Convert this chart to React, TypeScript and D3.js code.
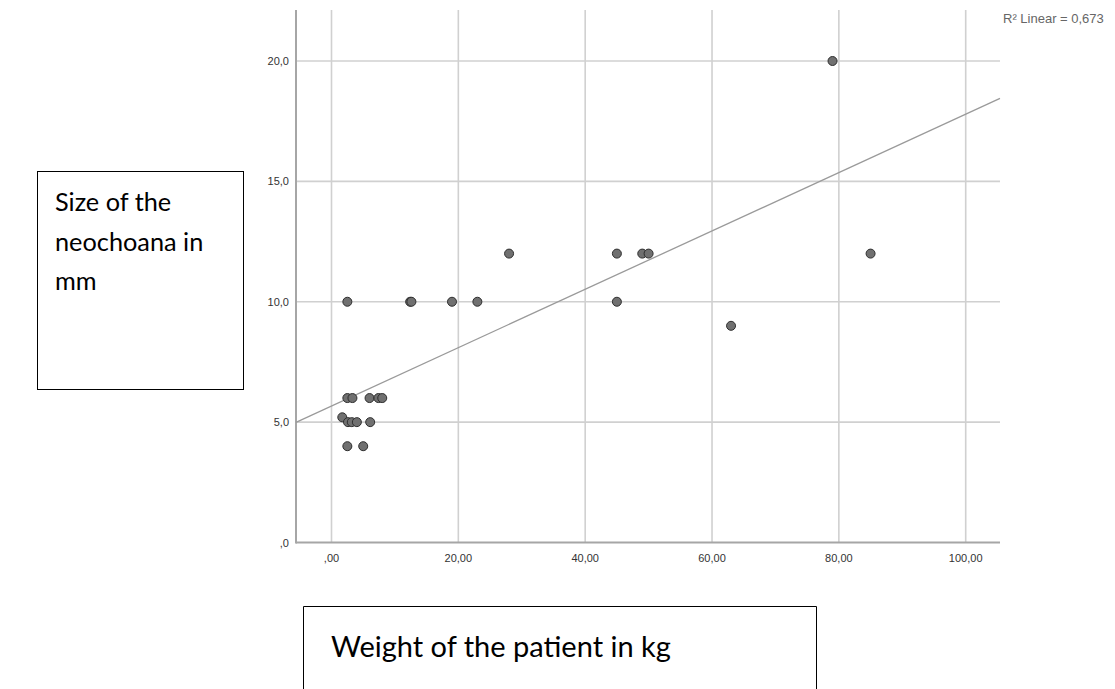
import React, { useEffect } from "react";
import * as d3 from "d3";

// Data: weight of patient (kg) vs size of neochoana (mm)
const weightKg: number[] = [
  2.5, 12.4, 12.6, 19, 23, 28, 45, 45, 49, 50, 63, 79, 85,
  2.5, 3.3, 6, 7.4, 8,
  1.7, 2.6, 3.2, 4.0, 6.1,
  2.5, 5.0,
];
const sizeMm: number[] = [
  10, 10, 10, 10, 10, 12, 12, 10, 12, 12, 9, 20, 12,
  6, 6, 6, 6, 6,
  5.2, 5, 5, 5, 5,
  4, 4,
];
const xTicks: number[] = [0, 20, 40, 60, 80, 100];
const yTicks: number[] = [0, 5, 10, 15, 20];
const fitIntercept = 5.67;
const fitSlope = 0.1212;
const r2Label = "R² Linear = 0,673";
const yTitleLines: string[] = ["Size of the", "neochoana in", "mm"];
const xTitle = "Weight of the patient in kg";

const W = 1115;
const H = 689;
const plotLeft = 296;
const plotRight = 1000;
const plotTop = 10;
const plotBottom = 542.5;

export default function App() {
  useEffect(() => {
    document.body.style.margin = "0";
  }, []);

  const x = d3.scaleLinear().domain([0, 100]).range([331.5, 965.7]);
  const xMin = x.invert(plotLeft);
  const xMax = x.invert(plotRight);
  const y = d3.scaleLinear().domain([0, 20]).range([plotBottom, 61]);

  const fmtX = (v: number) => (v === 0 ? ",00" : v.toFixed(2).replace(".", ","));
  const fmtY = (v: number) => (v === 0 ? ",0" : v.toFixed(1).replace(".", ","));

  const fitLine = d3
    .line<number>()
    .x((d) => x(d))
    .y((d) => y(fitIntercept + fitSlope * d));

  const pts = weightKg.map((w, i) => ({ w, s: sizeMm[i] }));

  return (
    <svg width={W} height={H} style={{ display: "block", background: "#fff" }}>
      {/* gridlines */}
      <g stroke="#d0d0d0" strokeWidth={1.6}>
        {xTicks.map((t) => (
          <line key={"gx" + t} x1={x(t)} x2={x(t)} y1={plotTop} y2={plotBottom} />
        ))}
        {yTicks
          .filter((t) => t > 0)
          .map((t) => (
            <line key={"gy" + t} x1={plotLeft} x2={plotRight} y1={y(t)} y2={y(t)} />
          ))}
      </g>
      {/* axes */}
      <g stroke="#a6a6a6" strokeWidth={2}>
        <line x1={plotLeft} x2={plotLeft} y1={plotTop} y2={plotBottom + 1} />
        <line x1={plotLeft} x2={plotRight} y1={plotBottom} y2={plotBottom} />
      </g>
      {/* tick labels */}
      <g fontFamily="'Liberation Sans', Arial, sans-serif" fontSize={11} fill="#333">
        {yTicks.map((t) => (
          <text key={"ty" + t} x={289} y={y(t) + 4} textAnchor="end">
            {fmtY(t)}
          </text>
        ))}
        {xTicks.map((t) => (
          <text key={"tx" + t} x={x(t)} y={562} textAnchor="middle">
            {fmtX(t)}
          </text>
        ))}
      </g>
      {/* fit line */}
      <path d={fitLine([xMin, xMax]) || ""} fill="none" stroke="#9a9a9a" strokeWidth={1.3} />
      {/* points */}
      <g>
        {pts.map((p, i) => (
          <circle
            key={i}
            cx={x(p.w)}
            cy={y(p.s)}
            r={4.5}
            fill="#707070"
            stroke="#2e2e2e"
            strokeWidth={1}
          />
        ))}
      </g>
      {/* R2 label */}
      <text
        x={1003}
        y={23}
        fontFamily="'Liberation Sans', Arial, sans-serif"
        fontSize={13}
        fill="#666"
      >
        {r2Label}
      </text>
      {/* Y title box */}
      <rect x={37.5} y={171.5} width={206} height={218} fill="none" stroke="#000" strokeWidth={1} />
      <g fontFamily="Lato, 'Open Sans', sans-serif" fontSize={25.3} fill="#000">
        {yTitleLines.map((l, i) => (
          <text key={l} x={55} y={211 + i * 39.5}>
            {l}
          </text>
        ))}
      </g>
      {/* X title box */}
      <path d="M303.5,689 V606.5 H816.5 V689" fill="none" stroke="#000" strokeWidth={1} />
      <text x={331} y={657} fontFamily="Lato, 'Open Sans', sans-serif" fontSize={29} fill="#000">
        {xTitle}
      </text>
    </svg>
  );
}
